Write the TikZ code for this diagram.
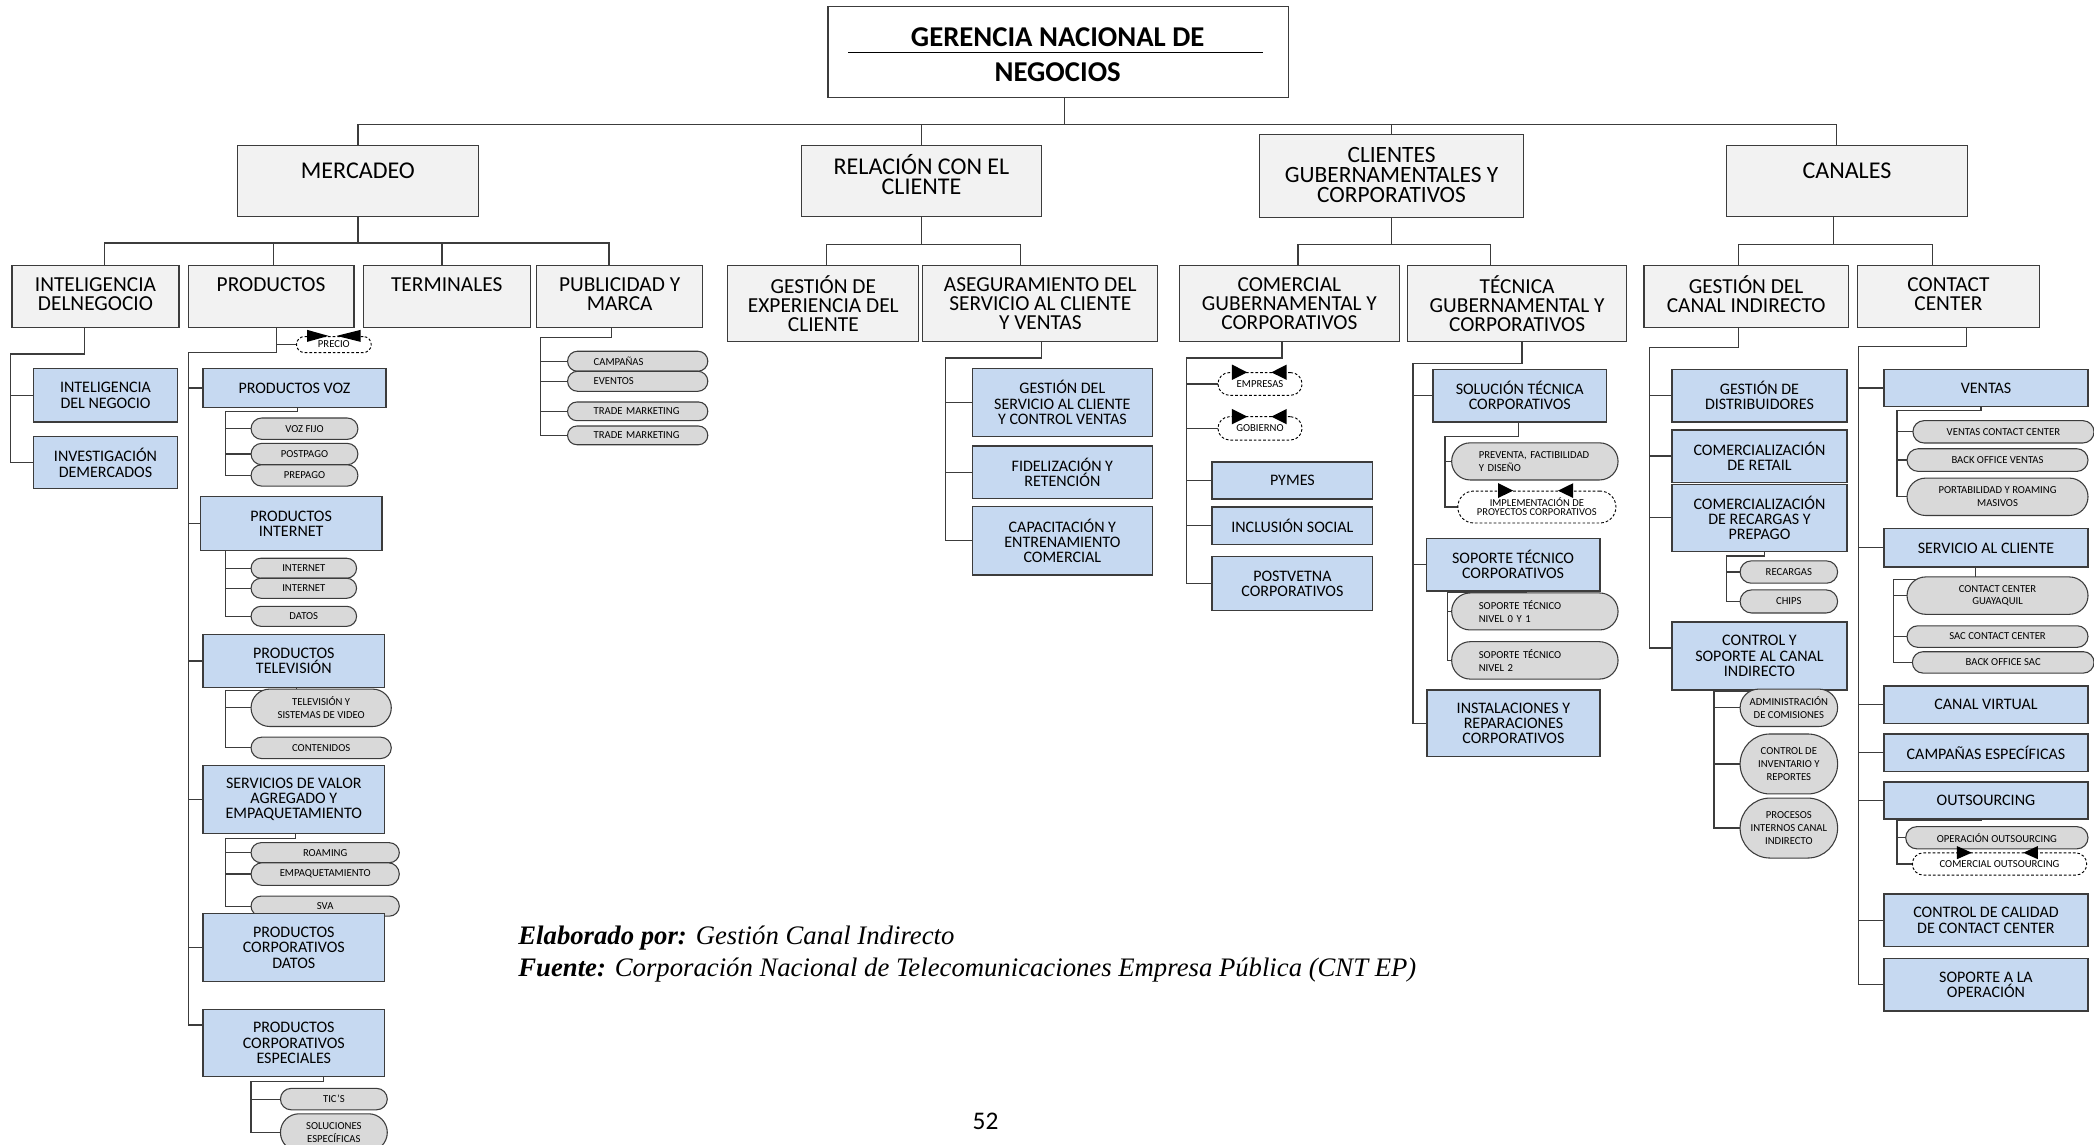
\documentclass[tikz,border=0pt]{standalone}
\usepackage{fontspec}
\setmainfont{Carlito}
\newfontfamily\footfont{Liberation Serif}
\usetikzlibrary{calc}

\definecolor{gfill}{HTML}{F2F2F2}
\definecolor{bfill}{HTML}{C6D9F1}
\definecolor{ofill}{HTML}{D9D9D9}
\definecolor{lcol}{HTML}{3C3C3C}

\pgfdeclarelayer{bg}
\pgfdeclarelayer{lines}
\pgfsetlayers{bg,lines,main}

\newcommand\fs[2]{\fontsize{#1}{#2}\selectfont}

% rectangle node given by its corners: style, name, x1, y1, x2, y2, text
\newcommand\orgrect[7]{%
  \pgfmathsetmacro\bw{#5-#3}\pgfmathsetmacro\bh{#6-#4}%
  \node[#1, minimum width=\bw pt, minimum height=\bh pt] (#2) at ({(#3+#5)/2},{(#4+#6)/2}) {#7};}
% pill-shaped node given by its corners
\newcommand\orgpill[7]{%
  \pgfmathsetmacro\bw{#5-#3}\pgfmathsetmacro\bh{#6-#4}\pgfmathsetmacro\br{(#6-#4)/2-0.05}%
  \node[#1, minimum width=\bw pt, minimum height=\bh pt, rounded corners=\br pt] (#2) at ({(#3+#5)/2},{(#4+#6)/2}) {#7};}
% parent -> children hanging from a horizontal bus: parent, drop x, bus y, child/x list
\newcommand\orgbus[4]{%
  \foreach \ch/\cx in {#4}{\draw[conn] (#1.south -| #2,0) |- (\cx,#3) -- (\ch.north -| \cx,0);}}
% parent -> children along a vertical spine: parent, drop x, elbow y, spine x, children
\newcommand\orgcomb[5]{%
  \foreach \ch in {#5}{\draw[conn] (#1.south -| #2,0) |- (#4,#3) |- (\ch.west);}}

\tikzset{
  conn/.style={draw=lcol, line width=0.9pt},
  gbox/.style={draw=lcol, fill=gfill, line width=0.9pt, inner sep=0pt, outer sep=0pt},
  bbox/.style={draw=lcol, fill=bfill, line width=0.9pt, inner sep=0pt, outer sep=0pt, align=center, font=\fs{12}{11.5}},
  pill/.style={draw=lcol, fill=ofill, line width=0.8pt, inner sep=0pt, outer sep=0pt, align=center, font=\fs{8}{9.5}},
  dpill/.style={draw=black, fill=white, dash pattern=on 2pt off 1.5pt, line width=0.7pt, inner sep=0pt, outer sep=0pt, align=center, font=\fs{8}{9.5}},
  ltop/.style={align=center, inner sep=0pt, font=\fs{18}{15.5}},
  lsub/.style={align=center, inner sep=0pt, font=\fs{16}{14}},
  tri/.style={fill=black},
}

\begin{document}
\begin{tikzpicture}[x=1pt,y=-1pt]
\begin{pgfonlayer}{bg}
  \fill[white] (0,0) rectangle (1568,857);
\end{pgfonlayer}
\useasboundingbox (0,0) rectangle (1568,857);

% ---------- head office ----------
\orgrect{draw=lcol, fill=white, line width=0.9pt, inner sep=0pt, outer sep=0pt}{top}{620}{5}{965}{73}{}
\node[anchor=base, inner sep=0pt, font=\bfseries\fs{21.5}{24}] (top-a) at (792,35) {GERENCIA NACIONAL DE};
\node[anchor=base, inner sep=0pt, font=\bfseries\fs{21.5}{24}] (top-b) at (792,61) {NEGOCIOS};
\draw[line width=1.1pt] (635,39.5) -- (946,39.5);

% ---------- first level ----------
\orgrect{gbox}{m1}{178}{109}{358}{162}{}
\node[ltop] (m1-t) at (268,128) {MERCADEO};
\orgrect{gbox}{m2}{600}{109}{780}{162}{}
\node[ltop, font=\fs{18}{15}] (m2-t) at (690,130.5) {RELACIÓN CON EL\\CLIENTE};
\orgrect{gbox}{m3}{943}{101}{1141}{163}{}
\node[ltop, font=\fs{17.5}{15}] (m3-t) at (1042,131) {CLIENTES\\GUBERNAMENTALES Y\\CORPORATIVOS};
\orgrect{gbox}{m4}{1293}{109}{1473}{162}{}
\node[ltop] (m4-t) at (1383,128) {CANALES};

% ---------- second level ----------
\orgrect{gbox}{a1}{9}{199}{134}{245}{}
\node[lsub] (a1-t) at (71.5,220) {INTELIGENCIA\\DELNEGOCIO};
\orgrect{gbox}{a2}{141}{199}{265}{245}{}
\node[lsub] (a2-t) at (203,213) {PRODUCTOS};
\orgrect{gbox}{a3}{272}{199}{397}{245}{}
\node[lsub] (a3-t) at (334.5,213) {TERMINALES};
\orgrect{gbox}{a4}{402}{199}{526}{245}{}
\node[lsub] (a4-t) at (464,220) {PUBLICIDAD Y\\MARCA};

\orgrect{gbox}{b1}{545}{199}{688}{256}{}
\node[lsub] (b1-t) at (616.5,227.5) {GESTIÓN DE\\EXPERIENCIA DEL\\CLIENTE};
\orgrect{gbox}{b2}{691}{199}{867}{256}{}
\node[lsub] (b2-t) at (779,227.5) {ASEGURAMIENTO DEL\\SERVICIO AL CLIENTE\\Y VENTAS};

\orgrect{gbox}{c1}{883}{199}{1048}{256}{}
\node[lsub] (c1-t) at (965.5,227.5) {COMERCIAL\\GUBERNAMENTAL Y\\CORPORATIVOS};
\orgrect{gbox}{c2}{1054}{199}{1218}{256}{}
\node[lsub] (c2-t) at (1136,227.5) {TÉCNICA\\GUBERNAMENTAL Y\\CORPORATIVOS};

\orgrect{gbox}{d1}{1231}{199}{1384}{245}{}
\node[lsub] (d1-t) at (1307.5,220) {GESTIÓN DEL\\CANAL INDIRECTO};
\orgrect{gbox}{d2}{1391}{199}{1527}{245}{}
\node[lsub] (d2-t) at (1459,220) {CONTACT\\CENTER};

% ---------- Mercadeo ----------
\orgrect{bbox}{i1}{25}{276}{133}{316}{INTELIGENCIA\\DEL NEGOCIO}
\orgrect{bbox}{i2}{25}{327}{133}{366}{INVESTIGACIÓN\\DEMERCADOS}

\orgpill{dpill}{precio}{222}{252}{278}{264}{PRECIO}
\orgrect{bbox}{p1}{152}{276}{289}{305}{PRODUCTOS VOZ}
\orgpill{pill}{p1a}{188}{313}{268}{329}{VOZ FIJO}
\orgpill{pill}{p1b}{188}{332}{268}{348}{POSTPAGO}
\orgpill{pill}{p1c}{188}{348}{268}{364}{PREPAGO}
\orgrect{bbox}{p2}{150}{372}{286}{412}{PRODUCTOS\\INTERNET}
\orgpill{pill}{p2a}{188}{418}{267}{433}{INTERNET}
\orgpill{pill}{p2b}{188}{433}{267}{448}{INTERNET}
\orgpill{pill}{p2c}{188}{454}{267}{469}{DATOS}
\orgrect{bbox}{p3}{152}{475}{288}{515}{PRODUCTOS\\TELEVISIÓN}
\orgpill{pill}{p3a}{188}{516}{293}{544}{TELEVISIÓN Y\\SISTEMAS DE VIDEO}
\orgpill{pill}{p3b}{188}{552}{293}{568}{CONTENIDOS}
\orgrect{bbox}{p4}{152}{573}{288}{624}{SERVICIOS DE VALOR\\AGREGADO Y\\EMPAQUETAMIENTO}
\orgpill{pill}{p4a}{188}{631}{299}{646}{ROAMING}
\orgpill{pill}{p4b}{188}{646}{299}{663}{EMPAQUETAMIENTO}
\orgpill{pill}{p4c}{188}{671}{299}{686}{SVA}
\orgrect{bbox}{p5}{152}{684}{288}{735}{PRODUCTOS\\CORPORATIVOS\\DATOS}
\orgrect{bbox}{p6}{152}{756}{288}{806}{PRODUCTOS\\CORPORATIVOS\\ESPECIALES}
\orgpill{pill}{p6a}{210}{815}{290}{831}{TIC’S}
\orgpill{pill}{p6b}{210}{834}{290}{862}{SOLUCIONES\\ESPECÍFICAS}

\orgpill{pill, text width=66pt, align=left}{a4a}{425}{263}{530}{278}{CAMPAÑAS}
\orgpill{pill, text width=66pt, align=left}{a4b}{425}{278}{530}{293}{EVENTOS}
\orgpill{pill, text width=66pt, align=left}{a4c}{425}{301}{530}{315}{TRADE MARKETING}
\orgpill{pill, text width=66pt, align=left}{a4d}{425}{319}{530}{333}{TRADE MARKETING}

% ---------- Relación con el cliente ----------
\orgrect{bbox}{b2a}{728}{276}{863}{327}{GESTIÓN DEL\\SERVICIO AL CLIENTE\\Y CONTROL VENTAS}
\orgrect{bbox}{b2b}{728}{334}{863}{373.5}{FIDELIZACIÓN Y\\RETENCIÓN}
\orgrect{bbox}{b2c}{728}{379.5}{863}{430.5}{CAPACITACIÓN Y\\ENTRENAMIENTO\\COMERCIAL}

% ---------- Clientes gubernamentales y corporativos ----------
\orgpill{dpill}{c1a}{912}{279}{975}{296}{EMPRESAS}
\orgpill{dpill}{c1b}{912}{312}{975}{329.5}{GOBIERNO}
\orgrect{bbox}{c1c}{907.5}{346}{1028}{373.7}{PYMES}
\orgrect{bbox}{c1d}{907.5}{379.6}{1028}{407.6}{INCLUSIÓN SOCIAL}
\orgrect{bbox}{c1e}{907.5}{417}{1028}{457}{POSTVETNA\\CORPORATIVOS}

\orgrect{bbox}{c2a}{1073}{276.4}{1203}{316}{SOLUCIÓN TÉCNICA\\CORPORATIVOS}
\orgpill{pill, text width=84pt, align=left}{c2a1}{1087}{331.6}{1211.6}{359.4}{PREVENTA, FACTIBILIDAD\\Y DISEÑO}
\orgpill{dpill, font=\fs{7.9}{6.6}}{c2a2}{1091.6}{367.7}{1210}{391.6}{IMPLEMENTACIÓN DE\\PROYECTOS CORPORATIVOS}
\orgrect{bbox}{c2b}{1068}{403}{1198}{442.6}{SOPORTE TÉCNICO\\CORPORATIVOS}
\orgpill{pill, text width=84pt, align=left}{c2b1}{1087}{444}{1211.6}{471.7}{SOPORTE TÉCNICO\\NIVEL 0 Y 1}
\orgpill{pill, text width=84pt, align=left}{c2b2}{1087}{480.5}{1211.6}{508.5}{SOPORTE TÉCNICO\\NIVEL 2}
\orgrect{bbox}{c2c}{1068.5}{516.6}{1198}{566.7}{INSTALACIONES Y\\REPARACIONES\\CORPORATIVOS}

% ---------- Canales ----------
\orgrect{bbox}{d1a}{1252}{276.4}{1383}{316}{GESTIÓN DE\\DISTRIBUIDORES}
\orgrect{bbox}{d1b}{1252}{322}{1383}{361}{COMERCIALIZACIÓN\\DE RETAIL}
\orgrect{bbox}{d1c}{1252}{362.5}{1383}{413}{COMERCIALIZACIÓN\\DE RECARGAS Y\\PREPAGO}
\orgpill{pill}{d1c1}{1303}{420}{1376}{436.7}{RECARGAS}
\orgpill{pill}{d1c2}{1303}{441.7}{1376}{459}{CHIPS}
\orgrect{bbox}{d1d}{1252}{465.7}{1383}{516.7}{CONTROL Y\\SOPORTE AL CANAL\\INDIRECTO}
\orgpill{pill}{d1d1}{1303}{516}{1376}{544}{ADMINISTRACIÓN\\DE COMISIONES}
\orgpill{pill}{d1d2}{1303}{549.6}{1376}{594.5}{CONTROL DE\\INVENTARIO Y\\REPORTES}
\orgpill{pill}{d1d3}{1303}{597.6}{1376}{642.5}{PROCESOS\\INTERNOS CANAL\\INDIRECTO}

\orgrect{bbox}{d2a}{1410.7}{276.4}{1563.5}{304.6}{VENTAS}
\orgpill{pill}{v1}{1432.4}{315}{1568}{331.7}{VENTAS CONTACT CENTER}
\orgpill{pill}{v2}{1428}{336}{1563.5}{353}{BACK OFFICE VENTAS}
\orgpill{pill}{v3}{1428}{358}{1563.5}{386}{PORTABILIDAD Y ROAMING\\MASIVOS}
\orgrect{bbox}{d2b}{1410.7}{396}{1563.5}{424.5}{SERVICIO AL CLIENTE}
\orgpill{pill}{s1}{1428}{432}{1563.5}{460}{CONTACT CENTER\\GUAYAQUIL}
\orgpill{pill}{s2}{1428}{468.6}{1563.5}{484.7}{SAC CONTACT CENTER}
\orgpill{pill}{s3}{1432}{488}{1568}{504}{BACK OFFICE SAC}
\orgrect{bbox}{d2c}{1410.7}{513.7}{1563.5}{541.6}{CANAL VIRTUAL}
\orgrect{bbox}{d2d}{1410.7}{549.6}{1563.5}{577.8}{CAMPAÑAS ESPECÍFICAS}
\orgrect{bbox}{d2e}{1410.7}{585.5}{1563.5}{613.3}{OUTSOURCING}
\orgpill{pill}{o1}{1427}{619}{1563.5}{635.6}{OPERACIÓN OUTSOURCING}
\orgpill{dpill}{o2}{1432}{638.6}{1562.5}{655.3}{COMERCIAL OUTSOURCING}
\orgrect{bbox}{d2f}{1410.7}{669.4}{1563.5}{709}{CONTROL DE CALIDAD\\DE CONTACT CENTER}
\orgrect{bbox}{d2g}{1410.7}{717.5}{1563.5}{757}{SOPORTE A LA\\OPERACIÓN}

% ---------- arrow heads on the dashed items ----------
\fill[tri] (230,247) -- (246,251.5) -- (230,256) -- cycle;
\fill[tri] (270,247) -- (252,251.5) -- (270,256) -- cycle;
\fill[tri] (922.5,273) -- (934,278.8) -- (922.5,284.5) -- cycle;
\fill[tri] (963.5,273) -- (952,278.8) -- (963.5,284.5) -- cycle;
\fill[tri] (922.5,306.2) -- (934,312) -- (922.5,317.7) -- cycle;
\fill[tri] (963.5,306.2) -- (952,312) -- (963.5,317.7) -- cycle;
\fill[tri] (1121.8,361.8) -- (1133,367.4) -- (1121.8,372.9) -- cycle;
\fill[tri] (1178,361.8) -- (1166.6,367.4) -- (1178,372.9) -- cycle;
\fill[tri] (1465.3,633.5) -- (1476.5,638.5) -- (1465.3,643.4) -- cycle;
\fill[tri] (1526,633.5) -- (1515,638.5) -- (1526,643.4) -- cycle;

% ---------- footer ----------
\node[anchor=base west, inner sep=0pt, font=\footfont\fs{20}{24}] (f1) at (388,707.5)
  {\textbf{\textit{Elaborado por:}} \textit{Gestión Canal Indirecto}};
\node[anchor=base west, inner sep=0pt, font=\footfont\fs{20}{24}] (f2) at (388,731.5)
  {\textbf{\textit{Fuente:}} \textit{Corporación Nacional de Telecomunicaciones Empresa Pública (CNT EP)}};
\node[anchor=base, inner sep=0pt, font=\fs{19}{22}] (pg) at (738,846) {52};

% ---------- connectors ----------
\begin{pgfonlayer}{lines}
\orgbus{top}{797}{93}{m1/268,m2/690,m3/1042,m4/1375}
\orgbus{m1}{268}{182}{a1/78,a2/205,a3/331,a4/456}
\orgbus{m2}{690}{183}{b1/619,b2/764}
\orgbus{m3}{1042}{183}{c1/972,c2/1116}
\orgbus{m4}{1373}{183}{d1/1302,d2/1447}

\orgcomb{a1}{63}{265}{8}{i1,i2}
\draw[conn] (a2.south -| 207,0) |- (precio.west);
\orgcomb{a2}{207}{264}{141}{p1,p2,p3,p4,p5}
\draw[conn] (a2.south -| 207,0) |- (141,264) |- ([yshift=13.5pt]p6.west);
\orgcomb{p1}{223}{308}{169}{p1a,p1b,p1c}
\orgcomb{p2}{223}{411}{169}{p2a,p2b,p2c}
\orgcomb{p3}{222}{517}{169}{p3a,p3b}
\orgcomb{p4}{221}{628}{169}{p4a,p4b,p4c}
\orgcomb{p6}{242}{810}{188}{p6a,p6b}
\orgcomb{a4}{458}{253}{405}{a4a,a4b,a4c,a4d}

\orgcomb{b2}{780}{268}{708}{b2a,b2b,b2c}

\orgcomb{c1}{960}{268}{888.5}{c1a,c1b,c1c,c1d,c1e}
\orgcomb{c2}{1139.6}{272}{1058}{c2a,c2b,c2c}
\orgcomb{c2a}{1137}{327}{1082}{c2a1,c2a2}
\orgcomb{c2b}{1143}{443.5}{1084}{c2b1,c2b2}

\orgcomb{d1}{1302}{260}{1235}{d1a,d1b,d1c}
\draw[conn] (d1.south -| 1302,0) |- (1235,260) |- ([yshift=6pt]d1d.west);
\orgcomb{d1c}{1321}{416.4}{1293}{d1c1,d1c2}
\orgcomb{d1d}{1338}{518}{1283.4}{d1d1,d1d2,d1d3}
\orgcomb{d2}{1472.8}{259.6}{1391.4}{d2a,d2b,d2c,d2d,d2e,d2f,d2g}
\orgcomb{d2a}{1483.3}{307.6}{1420.5}{v1,v2,v3}
\orgcomb{d2b}{1479}{434}{1418}{s1,s2,s3}
\orgcomb{d2e}{1483.3}{614.6}{1420.5}{o1,o2}
\end{pgfonlayer}
\end{tikzpicture}
\end{document}
